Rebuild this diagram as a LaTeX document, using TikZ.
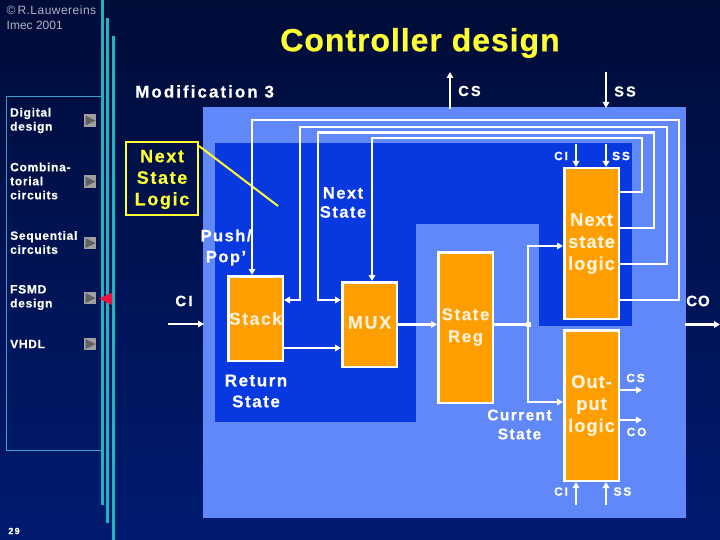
\documentclass[tikz,border=0pt]{standalone}
\usepackage{fontspec}
\usetikzlibrary{arrows.meta,calc}
\setmainfont{Liberation Sans}
\newfontfamily\fntA[LetterSpace=6,BoldFeatures={FakeBold=0.3}]{Liberation Sans}
\newfontfamily\fntB[LetterSpace=9,BoldFeatures={FakeBold=0.5}]{Liberation Sans}
\newfontfamily\fntM[LetterSpace=12,BoldFeatures={FakeBold=0.5}]{Liberation Sans}
\newfontfamily\fntE[LetterSpace=5,BoldFeatures={FakeBold=0.5}]{Liberation Sans}
\newfontfamily\fntC[LetterSpace=15,BoldFeatures={FakeBold=0.4}]{Liberation Sans}
\newfontfamily\fntD[LetterSpace=4]{Liberation Sans}
\newfontfamily\fntT[LetterSpace=3,BoldFeatures={FakeBold=0.6}]{Liberation Sans}
\definecolor{bgtop}{HTML}{000C38}
\definecolor{bgbot}{HTML}{001B70}
\definecolor{lightb}{HTML}{6088F8}
\definecolor{darkb}{HTML}{0838E0}
\definecolor{orangeb}{HTML}{FF9E00}
\definecolor{cyanl}{HTML}{1FB5C0}
\definecolor{sidel}{HTML}{38A0D0}
\definecolor{yell}{HTML}{FFFF33}
\definecolor{cream}{HTML}{FFF2D8}
\definecolor{grayt}{HTML}{AEB4C4}
\definecolor{redm}{HTML}{F01040}
\tikzset{
  x=1pt,y=-1pt,
  orangebox/.style={draw=white,fill=orangeb,line width=2.5pt,minimum width=54.5pt,inner sep=0pt},
  boxtxt/.style={inner sep=0pt,align=center,text=cream,font=\fntE\bfseries\fontsize{18.5}{22}\selectfont},
  wire/.style={draw=white,line width=2.2pt,line join=miter},
  wirea/.style={wire,-{Triangle[length=6pt,width=6.5pt]}},
  lab/.style={text=white,inner sep=0pt,align=center,font=\fntB\bfseries\fontsize{16.5}{21}\selectfont},
  sig/.style={text=white,inner sep=0pt,font=\fntC\bfseries\fontsize{14.5}{16}\selectfont},
  sigs/.style={text=white,inner sep=0pt,font=\fntC\bfseries\fontsize{12}{14}\selectfont},
  side/.style={text=white,inner sep=0pt,anchor=west,align=left,font=\fntA\bfseries\fontsize{12}{14}\selectfont},
  btn/.style={fill=gray!75,minimum size=12.5pt,inner sep=0pt},
  tri/.style={fill=black!62},
  cyanbar/.style={fill=cyanl},
}
\begin{document}
\begin{tikzpicture}
\useasboundingbox (0,0) rectangle (720,540);
\shade[top color=bgtop,bottom color=bgbot] (0,0) rectangle (720,540);
% side bars
\fill[cyanbar] (101,0) rectangle (104,505);
\fill[cyanbar] (106,18) rectangle (109,523);
\fill[cyanbar] (112,36) rectangle (115,540);
\draw[sidel,line width=1pt] (101,96.5) -- (6.5,96.5) -- (6.5,450.5) -- (101,450.5);
% panels
\fill[lightb] (203,107) rectangle (686,518);
\fill[darkb] (215,143) rectangle (632,326);
\fill[darkb] (215,326) rectangle (416,422);
\fill[lightb] (416,224) rectangle (539,326);
% header text
\node[text=grayt,inner sep=0pt,anchor=west,font=\fntD\fontsize{12}{14}\selectfont] (cr) at (6.5,10.5) {©\,R.Lauwereins};
\node[text=grayt,inner sep=0pt,anchor=west,font=\fontsize{12}{14}\selectfont] (im) at (6.5,25.5) {Imec 2001};
\node[text=yell,inner sep=0pt,font=\fntT\bfseries\fontsize{32}{34}\selectfont] (title) at (420,43) {Controller design};
\node[lab,anchor=west,font=\fntM\bfseries\fontsize{17}{20}\selectfont] (mod) at (135,91.5) {Modification 3};
% side menu
\node[side] (s1) at (10,120.5) {Digital\\design};
\node[side] (s2) at (10,181) {Combina-\\torial\\circuits};
\node[side] (s3) at (10,242.5) {Sequential\\circuits};
\node[side] (s4) at (10,297.5) {FSMD\\design};
\node[side] (s5) at (10,344) {VHDL};
\foreach \n/\yy in {b1/120.5,b2/181.5,b3/243,b4/298,b5/344}{
  \node[btn] (\n) at (90,\yy) {};
  \fill[tri] (\n.north west) ++(2,1.5) -- ++(10,5) -- ++(-10,5) -- cycle;
}
\fill[redm] (99,298.5) -- (112,292.5) -- (112,305) -- cycle;
\node[text=white,inner sep=0pt,font=\fntC\bfseries\fontsize{9}{10}\selectfont] (pg) at (14,531) {29};
% next state logic note
\node[draw=yell,line width=2.5pt,minimum width=72pt,minimum height=73pt,inner sep=0pt] (nsl) at (162,178.5) {};
\node[text=yell,inner sep=0pt,align=center,font=\fntB\bfseries\fontsize{18}{21.5}\selectfont] (tnsl) at ($(nsl)+(0,1)$) {Next\\State\\Logic};
\coordinate (ya) at (199,146);
\coordinate (yb) at (278,206);
\draw[yell,line width=2pt] (ya) -- (yb);
% blocks
\node[orangebox,minimum height=84.5pt] (stack) at (255.5,318.5) {};
\node[boxtxt,font=\fntB\bfseries\fontsize{17.5}{22}\selectfont] (tstack) at ($(stack)+(0,0)$) {Stack};
\node[orangebox,minimum height=84.5pt] (mux) at (369.5,324.5) {};
\node[boxtxt,font=\fntB\bfseries\fontsize{18}{22}\selectfont] (tmux) at ($(mux)+(0,-2)$) {MUX};
\node[orangebox,minimum height=150.5pt] (reg) at (465.5,327.5) {};
\node[boxtxt,font=\fntB\bfseries\fontsize{17}{22}\selectfont] (treg) at ($(reg)+(0,-0.5)$) {State\\Reg};
\node[orangebox,minimum height=150.5pt] (nxt) at (591.5,243.5) {};
\node[boxtxt] (tnxt) at ($(nxt)+(0,0)$) {Next\\state\\logic};
\node[orangebox,minimum height=150.5pt] (out) at (591.5,405.5) {};
\node[boxtxt] (tout) at ($(out)+(0,0)$) {Out-\\put\\logic};
% feedback wires
\coordinate (o1) at (679,300); \coordinate (t1) at (252,120);
\coordinate (o2) at (667,264); \coordinate (t2) at (300,127);
\coordinate (o3) at (654,228); \coordinate (t3) at (318,132.5);
\coordinate (o4) at (642,192); \coordinate (t4) at (372,138);
\coordinate (d2) at (300,300); \coordinate (d3) at (318,300);
\draw[wirea] (nxt.east |- o1) -- (o1) -- (o1 |- t1) -- (t1) -- (stack.north -| t1);
\draw[wirea] (nxt.east |- o2) -- (o2) -- (o2 |- t2) -- (t2) -- (d2) -- (stack.east |- d2);
\draw[wirea] (nxt.east |- o3) -- (o3) -- (o3 |- t3) -- (t3) -- (d3) -- (mux.west |- d3);
\draw[wirea] (nxt.east |- o4) -- (o4) -- (o4 |- t4) -- (t4) -- (mux.north -| t4);
% forward wires
\coordinate (sm) at (284,348);
\draw[wirea] (stack.east |- sm) -- (mux.west |- sm);
\draw[wirea] (mux.east) -- (reg.west |- mux.east);
\coordinate (jn) at (528,324.5);
\draw[wire] (reg.east |- jn) -- (jn);
\fill[white] (525.5,322) rectangle (530.5,327);
\coordinate (ju) at (528,246); \coordinate (jd) at (528,402);
\draw[wirea] (jn) -- (ju) -- (nxt.west |- ju);
\draw[wirea] (jn) -- (jd) -- (out.west |- jd);
% external signals
\coordinate (ci0) at (168,324); \coordinate (ci1) at (204,324);
\draw[wirea] (ci0) -- (ci1);
\coordinate (co0) at (685,324.5); \coordinate (co1) at (720,324.5);
\draw[wirea] (co0) -- (co1);
\coordinate (cs0) at (450,109); \coordinate (cs1) at (450,72);
\draw[wirea] (cs0) -- (cs1);
\coordinate (ss0) at (606,72); \coordinate (ss1) at (606,108);
\draw[wirea] (ss0) -- (ss1);
\coordinate (ni) at (576,144); \coordinate (ns) at (606,144);
\draw[wirea] (ni) -- (nxt.north -| ni);
\draw[wirea] (ns) -- (nxt.north -| ns);
\coordinate (oi) at (576,505); \coordinate (os) at (606,505);
\draw[wirea] (oi) -- (out.south -| oi);
\draw[wirea] (os) -- (out.south -| os);
\coordinate (ocs) at (642,390); \coordinate (oco) at (642,420);
\draw[wirea] (out.east |- ocs) -- (ocs);
\draw[wirea] (out.east |- oco) -- (oco);
% labels
\node[sig] (lcs) at (469.5,91) {CS};
\node[sig] (lss) at (625,91.5) {SS};
\node[sigs] (lci) at (561,156) {CI};
\node[sigs] (lsi) at (621,156) {SS};
\node[sig,font=\fntC\bfseries\fontsize{15}{16}\selectfont] (lcl) at (184,301) {CI};
\node[sig,font=\fntA\bfseries\fontsize{15}{16}\selectfont] (lco) at (698,301) {CO};
\node[sigs] (lo1) at (561,491.5) {CI};
\node[sigs] (lo2) at (622.5,491.5) {SS};
\node[sigs] (lo3) at (635.5,378) {CS};
\node[sigs] (lo4) at (636.5,432) {CO};
\node[lab,font=\fntB\bfseries\fontsize{16.5}{19}\selectfont] (lns) at (343,202.5) {Next\\State};
\node[lab] (lpp) at (226,247.5) {Push/\\Pop’};
\node[lab,font=\fntB\bfseries\fontsize{17}{21}\selectfont] (lrs) at (256,391) {Return\\State};
\node[lab,font=\fntB\bfseries\fontsize{15.5}{19}\selectfont] (lcu) at (519.5,424.5) {Current\\State};
\end{tikzpicture}
\end{document}
